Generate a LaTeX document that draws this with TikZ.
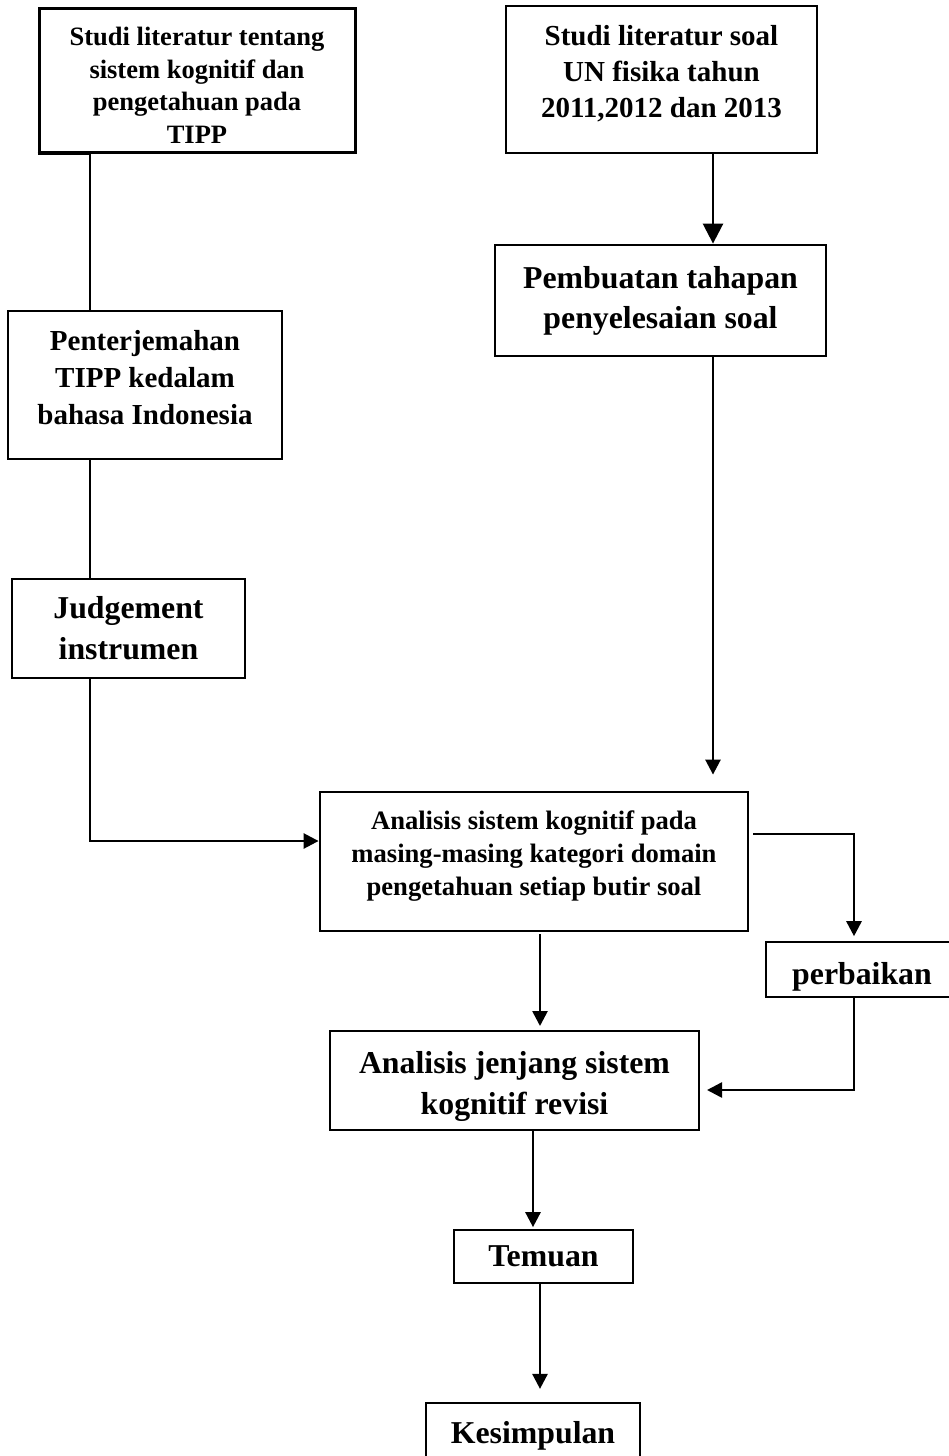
\documentclass[tikz,border=0pt]{standalone}
\usepackage{fontspec}
\setmainfont{Liberation Serif}
\usetikzlibrary{arrows.meta}
\newcommand\shiftedtext[2]{\raisebox{#1}[\height][\depth]{\begin{tabular}{@{}c@{}}#2\end{tabular}}}
\begin{document}
\begin{tikzpicture}[x=1pt,y=-1pt,
  box/.style={draw, inner sep=0pt, align=center},
  conn/.style={line width=2.6pt},
  arr/.style={conn, -{Triangle[length=15pt,width=15pt]}},
  bigarr/.style={conn, -{Triangle[length=20pt,width=20pt]}},
  fA/.style={font=\bfseries\fontsize{26.5}{32.5}\selectfont},
  fB/.style={font=\bfseries\fontsize{29}{37}\selectfont},
  fC/.style={font=\bfseries\fontsize{31.8}{41}\selectfont}]
\useasboundingbox (0,0) rectangle (948,1456);
\coordinate (lx) at (90,0);
\coordinate (rx) at (713,0);
\coordinate (px) at (854,0);
\coordinate (mx) at (540,0);
\coordinate (tx) at (533,0);

\node[box, fA, line width=3pt, minimum width=316pt, minimum height=144pt] (b1) at (197,80)
  {\shiftedtext{-8pt}{Studi literatur tentang\\sistem kognitif dan\\pengetahuan pada\\TIPP}};
\node[box, fB, line width=2.2pt, minimum width=274pt, minimum height=148pt] (b2) at (145,385)
  {\shiftedtext{5pt}{Penterjemahan\\TIPP kedalam\\bahasa Indonesia}};
\node[box, fC, line width=1.3pt, minimum width=233pt, minimum height=99pt] (b3) at (128.5,628.5)
  {\shiftedtext{-2pt}{Judgement\\instrumen}};
\node[box, font=\bfseries\fontsize{29}{36}\selectfont, line width=2.3pt, minimum width=311pt, minimum height=147pt] (b4) at (661.5,79.5)
  {\shiftedtext{5pt}{Studi literatur soal\\UN fisika tahun\\2011,2012 dan 2013}};
\node[box, font=\bfseries\fontsize{31.8}{40}\selectfont, line width=2.8pt, minimum width=331pt, minimum height=111pt] (b5) at (660.5,300.5)
  {\shiftedtext{0pt}{Pembuatan tahapan\\penyelesaian soal}};
\node[box, font=\bfseries\fontsize{26.6}{33}\selectfont, line width=2.8pt, minimum width=428pt, minimum height=139pt] (an) at (534,861.5)
  {\shiftedtext{6pt}{Analisis sistem kognitif pada\\masing-masing kategori domain\\pengetahuan setiap butir soal}};
\node[box, fC, line width=1.6pt, minimum width=192pt, minimum height=55pt] (pb) at (862,969.5)
  {\shiftedtext{-7pt}{perbaikan}};
\node[box, fC, line width=2pt, minimum width=369pt, minimum height=99pt] (jj) at (514.5,1080.5)
  {\shiftedtext{-5pt}{Analisis jenjang sistem\\kognitif revisi}};
\node[box, fC, line width=1.7pt, minimum width=179pt, minimum height=53pt] (tm) at (543.5,1256.5)
  {\shiftedtext{-2pt}{Temuan}};
\node[box, fC, line width=2.2pt, minimum width=214pt, minimum height=59pt] (ks) at (533,1432.5)
  {\shiftedtext{-3pt}{Kesimpulan}};

\draw[conn] (b1.south west) -- (b1.south west -| lx) -- (b2.north -| lx);
\draw[conn] (b2.south -| lx) -- (b3.north -| lx);
\draw[arr] (b3.south -| lx) |- ([yshift=20.5pt]an.west);
\draw[bigarr] (b4.south -| rx) -- (b5.north -| rx);
\draw[arr, shorten >=16pt] (b5.south -| rx) -- (an.north -| rx);
\draw[arr, shorten <=4pt, shorten >=5pt] ([yshift=27.5pt]an.east) -| (pb.north -| px);
\draw[arr, shorten <=2pt, shorten >=4pt] (an.south -| mx) -- (jj.north -| mx);
\draw[arr, shorten >=7pt] (pb.south -| px) |- ([yshift=-9.5pt]jj.east);
\draw[arr, shorten >=2pt] (jj.south -| tx) -- (tm.north -| tx);
\draw[arr, shorten >=13pt] (tm.south -| mx) -- (ks.north -| mx);
\end{tikzpicture}
\end{document}
